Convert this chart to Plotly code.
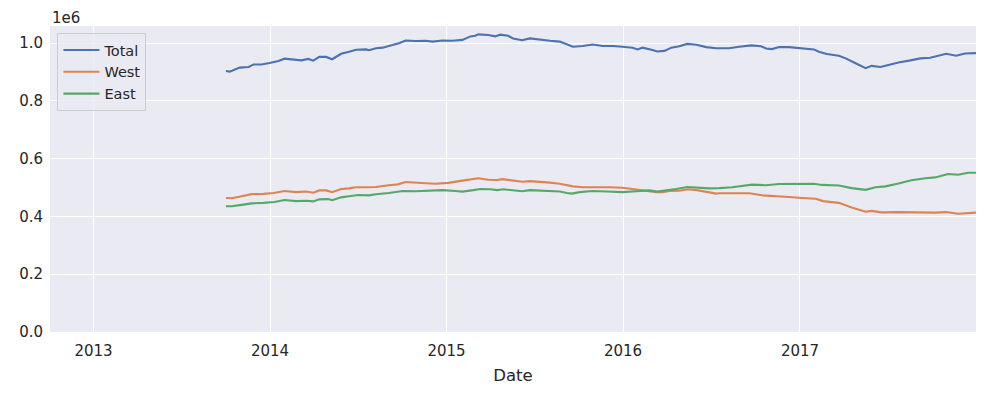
import pandas as pd
import plotly.graph_objects as go

# Dates are stored as decimal years; values are 365-day rolling sums
total_t = [2013.750, 2013.772, 2013.828, 2013.879, 2013.907, 2013.952, 2013.997, 2014.048, 2014.082, 2014.132,
           2014.177, 2014.217, 2014.245, 2014.279, 2014.318, 2014.352, 2014.403, 2014.448, 2014.487, 2014.544,
           2014.561, 2014.600, 2014.639, 2014.673, 2014.730, 2014.769, 2014.825, 2014.882, 2014.921, 2014.977,
           2015.034, 2015.090, 2015.135, 2015.163, 2015.180, 2015.237, 2015.276, 2015.304, 2015.349, 2015.377,
           2015.428, 2015.473, 2015.530, 2015.586, 2015.642, 2015.682, 2015.716, 2015.772, 2015.828, 2015.885,
           2015.941, 2015.997, 2016.054, 2016.082, 2016.110, 2016.161, 2016.194, 2016.234, 2016.273, 2016.318,
           2016.363, 2016.414, 2016.470, 2016.527, 2016.600, 2016.656, 2016.724, 2016.780, 2016.808, 2016.842,
           2016.882, 2016.938, 2017.006, 2017.079, 2017.107, 2017.152, 2017.220, 2017.259, 2017.315, 2017.372,
           2017.406, 2017.456, 2017.501, 2017.558, 2017.625, 2017.682, 2017.738, 2017.783, 2017.828, 2017.885,
           2017.935, 2017.997]
total_v = [903000, 901000, 915000, 917000, 926000, 926000, 931000, 938000, 946000, 942000,
           940000, 945000, 939000, 952000, 952000, 944000, 963000, 970000, 977000, 978000,
           975000, 982000, 984000, 990000, 999000, 1009000, 1007000, 1008000, 1005000, 1009000,
           1008000, 1011000, 1023000, 1025000, 1030000, 1028000, 1023000, 1029000, 1025000, 1016000,
           1010000, 1016000, 1011000, 1008000, 1005000, 995000, 987000, 990000, 995000, 990000,
           990000, 987000, 984000, 978000, 984000, 977000, 971000, 973000, 984000, 989000,
           997000, 994000, 986000, 982000, 982000, 987000, 992000, 989000, 981000, 979000,
           986000, 986000, 983000, 978000, 970000, 962000, 956000, 947000, 930000, 913000,
           921000, 917000, 924000, 933000, 940000, 947000, 949000, 955000, 963000, 956000,
           964000, 965000]

west_t = [2013.750, 2013.783, 2013.839, 2013.896, 2013.963, 2014.020, 2014.082, 2014.149, 2014.206, 2014.245,
          2014.279, 2014.318, 2014.352, 2014.403, 2014.448, 2014.487, 2014.555, 2014.600, 2014.673, 2014.724,
          2014.769, 2014.825, 2014.882, 2014.938, 2015.011, 2015.090, 2015.146, 2015.180, 2015.237, 2015.287,
          2015.315, 2015.349, 2015.377, 2015.428, 2015.473, 2015.530, 2015.586, 2015.642, 2015.687, 2015.716,
          2015.772, 2015.851, 2015.924, 2015.997, 2016.037, 2016.076, 2016.132, 2016.189, 2016.223, 2016.262,
          2016.318, 2016.369, 2016.425, 2016.487, 2016.527, 2016.544, 2016.617, 2016.713, 2016.786, 2016.865,
          2016.938, 2017.011, 2017.090, 2017.130, 2017.220, 2017.293, 2017.372, 2017.406, 2017.462, 2017.558,
          2017.670, 2017.766, 2017.828, 2017.896, 2017.997]
west_v = [464000, 463000, 470000, 477000, 478000, 481000, 488000, 484000, 486000, 482000,
          490000, 490000, 484000, 495000, 497000, 501000, 501000, 502000, 508000, 511000,
          519000, 516000, 515000, 513000, 516000, 524000, 529000, 532000, 527000, 526000,
          529000, 527000, 524000, 520000, 522000, 520000, 517000, 513000, 506000, 504000,
          501000, 502000, 501000, 499000, 496000, 492000, 490000, 484000, 484000, 488000,
          489000, 494000, 490000, 484000, 479000, 480000, 480000, 480000, 473000, 471000,
          467000, 464000, 461000, 453000, 447000, 431000, 416000, 419000, 414000, 415000,
          413000, 413000, 415000, 409000, 413000]

east_t = [2013.750, 2013.783, 2013.839, 2013.896, 2013.963, 2014.025, 2014.082, 2014.149, 2014.206, 2014.245,
          2014.279, 2014.330, 2014.352, 2014.403, 2014.448, 2014.499, 2014.561, 2014.600, 2014.673, 2014.752,
          2014.825, 2014.899, 2014.977, 2015.051, 2015.090, 2015.152, 2015.192, 2015.248, 2015.287, 2015.321,
          2015.361, 2015.428, 2015.473, 2015.530, 2015.586, 2015.642, 2015.682, 2015.710, 2015.755, 2015.828,
          2015.907, 2015.997, 2016.076, 2016.149, 2016.194, 2016.245, 2016.301, 2016.363, 2016.425, 2016.487,
          2016.544, 2016.617, 2016.730, 2016.808, 2016.882, 2016.994, 2017.079, 2017.124, 2017.220, 2017.293,
          2017.372, 2017.428, 2017.485, 2017.558, 2017.631, 2017.710, 2017.766, 2017.839, 2017.896, 2017.952,
          2017.997]
east_v = [435000, 435000, 440000, 445000, 447000, 450000, 457000, 453000, 454000, 452000,
          459000, 460000, 456000, 466000, 470000, 474000, 473000, 477000, 481000, 488000,
          487000, 488000, 491000, 488000, 486000, 491000, 495000, 494000, 491000, 494000,
          491000, 487000, 491000, 489000, 488000, 486000, 481000, 479000, 484000, 488000,
          486000, 484000, 487000, 490000, 486000, 490000, 495000, 502000, 499000, 497000,
          498000, 501000, 510000, 508000, 512000, 513000, 513000, 509000, 507000, 498000,
          492000, 501000, 504000, 514000, 525000, 532000, 535000, 547000, 544000, 551000,
          551000]

y_ticks = [0, 200000, 400000, 600000, 800000, 1000000]
y_tick_labels = ["0.0", "0.2", "0.4", "0.6", "0.8", "1.0"]
x_tick_years = [2013, 2014, 2015, 2016, 2017]


def to_date(dec_year):
    year = int(dec_year)
    start = pd.Timestamp(year=year, month=1, day=1)
    end = pd.Timestamp(year=year + 1, month=1, day=1)
    return start + (end - start) * (dec_year - year)


series = [
    ("Total", total_t, total_v, "#4C72B0"),
    ("West", west_t, west_v, "#DD8452"),
    ("East", east_t, east_v, "#55A868"),
]

fig = go.Figure()
for name, t, v, color in series:
    fig.add_trace(go.Scatter(
        x=[to_date(d) for d in t], y=v, mode="lines", name=name,
        line=dict(color=color, width=2.1),
    ))

txt = "#262626"
font = "DejaVu Sans"
fig.update_layout(
    width=979, height=387,
    margin=dict(l=40, r=11, t=18, b=63),
    paper_bgcolor="white", plot_bgcolor="#EAEAF2",
    font=dict(family=font, size=15, color=txt),
    showlegend=True,
    legend=dict(
        x=0.008, y=0.977, xanchor="left", yanchor="top",
        bgcolor="rgba(234,234,242,0.8)", bordercolor="#CCCCCC", borderwidth=1,
        font=dict(family=font, size=14.5, color=txt),
        itemwidth=36,
    ),
    xaxis=dict(
        range=[pd.Timestamp("2012-10-03"), pd.Timestamp("2017-12-31")],
        tickvals=[pd.Timestamp(year=y, month=1, day=1) for y in x_tick_years],
        ticktext=[str(y) for y in x_tick_years],
        showgrid=True, gridcolor="white", gridwidth=1.4,
        zeroline=False, showline=False,
        ticks="outside", ticklen=5, tickcolor="rgba(0,0,0,0)",
        tickfont=dict(size=15, color=txt),
        title=dict(text="Date", font=dict(size=16.5, color=txt), standoff=10),
    ),
    yaxis=dict(
        range=[0, 1059000],
        tickvals=y_ticks, ticktext=y_tick_labels,
        showgrid=True, gridcolor="white", gridwidth=1.4,
        zeroline=False, showline=False,
        ticks="outside", ticklen=3, tickcolor="rgba(0,0,0,0)",
        tickfont=dict(size=15, color=txt),
    ),
    annotations=[dict(
        text="1e6", xref="paper", yref="paper", x=0, y=1,
        xanchor="left", yanchor="bottom", showarrow=False, yshift=-3,
        font=dict(family=font, size=15, color=txt),
    )],
)

fig.write_html("out.html")
